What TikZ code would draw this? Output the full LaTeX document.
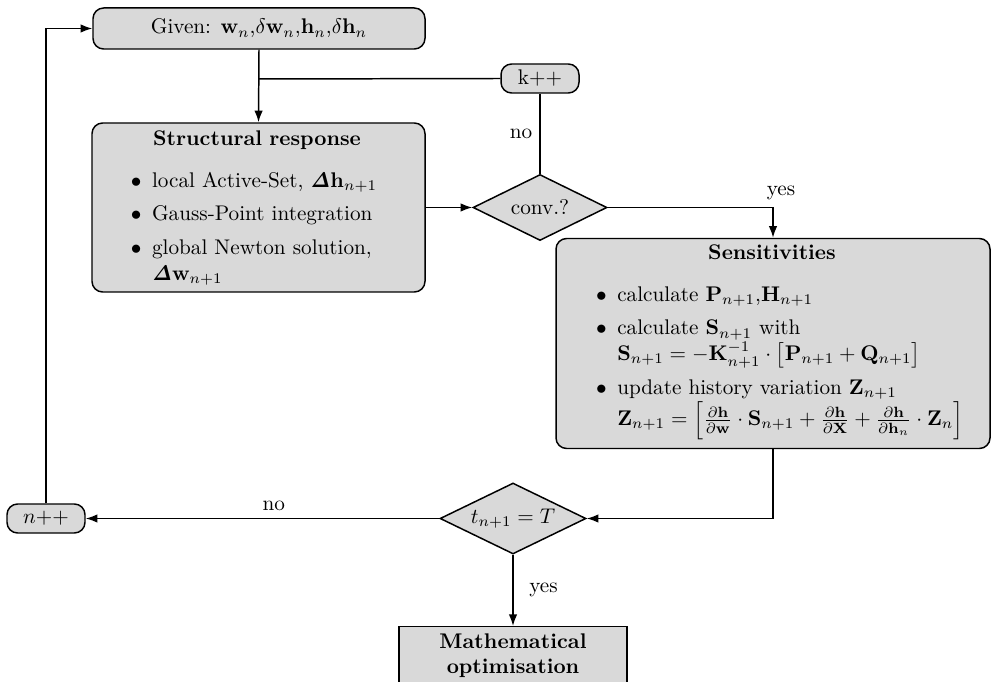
\documentclass[tikz,border=0pt]{standalone}
\usepackage{amsmath,amssymb}
\usetikzlibrary{shapes.geometric,arrows.meta}
\newlength\pxu
\setlength\pxu{0.4717pt}
% compact bullet list used inside the process boxes
\newenvironment{bulletlist}
  {\begin{list}{$\bullet$}{\setlength{\itemsep}{4pt}\setlength{\parsep}{0pt}%
     \setlength{\topsep}{7.5pt}\setlength{\partopsep}{0pt}}}
  {\end{list}}

\begin{document}
\begin{tikzpicture}[x=\pxu,y=-\pxu,
  box/.style={draw,fill=black!15,line width=0.7pt,rounded corners=5pt},
  sharpbox/.style={draw,fill=black!15,line width=0.7pt},
  pill/.style={draw,fill=black!15,line width=0.7pt,rounded corners=5pt,inner sep=0pt},
  decision/.style={draw,fill=black!15,line width=0.7pt,diamond,aspect=2,inner sep=0pt},
  boxtext/.style={inner sep=0pt,anchor=north},
  conn/.style={line width=0.7pt},
  arr/.style={conn,-{Latex[length=5.5pt,width=4pt]}},
]
\useasboundingbox (0,0) rectangle (991,682);

% process boxes
\node[box, minimum width=332\pxu, minimum height=41\pxu] (given) at (259,28.5)
  {Given: $\mathbf{w}_n$,$\delta\mathbf{w}_n$,$\mathbf{h}_n$,$\delta\mathbf{h}_n$};

\node[box, minimum width=333\pxu, minimum height=169\pxu] (struct) at (258.5,207.5) {};
\node[boxtext, text width=149pt] (structtext) at (257,130.5) {%
  {\centering\textbf{Structural response}\par}
  \begin{bulletlist}
  \item local Active-Set, $\boldsymbol{\mathit{\Delta}}\mathbf{h}_{n+1}$
  \item Gauss-Point integration
  \item global Newton solution, $\boldsymbol{\mathit{\Delta}}\mathbf{w}_{n+1}$
  \end{bulletlist}};

\node[box, minimum width=434\pxu, minimum height=210\pxu] (sens) at (773,343.5) {};
\node[boxtext, text width=196pt] (senstext) at (772,244.5) {%
  {\centering\textbf{Sensitivities}\par}
  \begin{bulletlist}
  \item calculate $\mathbf{P}_{n+1}$,$\mathbf{H}_{n+1}$
  \item calculate $\mathbf{S}_{n+1}$ with\\
    $\mathbf{S}_{n+1}=-\mathbf{K}_{n+1}^{-1}\cdot\bigl[\mathbf{P}_{n+1}+\mathbf{Q}_{n+1}\bigr]$
  \item update history variation $\mathbf{Z}_{n+1}$\\
    $\mathbf{Z}_{n+1}=\left[\frac{\partial\mathbf{h}}{\partial\mathbf{w}}\cdot\mathbf{S}_{n+1}
      +\frac{\partial\mathbf{h}}{\partial\mathbf{X}}
      +\frac{\partial\mathbf{h}}{\partial\mathbf{h}_n}\cdot\mathbf{Z}_n\right]$
  \end{bulletlist}};

\node[sharpbox, anchor=north, minimum width=228\pxu, text width=100pt, align=center,
      font=\bfseries] (math) at (513,626) {Mathematical\\optimisation};

% counters
\node[pill, minimum width=78\pxu, minimum height=29\pxu] (kpp) at (540,78.5) {k++};
\node[pill, minimum width=78\pxu, minimum height=29\pxu] (npp) at (46,518.5) {$n$++};

% decisions
\node[decision, minimum width=134\pxu, minimum height=66\pxu] (conv) at (540,207.5) {conv.?};
\node[decision, minimum width=146\pxu, minimum height=71\pxu] (tdia) at (513,518.5) {$t_{n+1}=T$};

% connectors
\coordinate (j1) at (259,79);
\draw[arr] (given.south) -- (struct.north);
\draw[conn] (kpp.west) -- (j1);
\draw[conn] (kpp.south) -- node[left] {no} (conv.north);
\draw[arr] (struct.east) -- (conv.west);
\draw[arr] (conv.east) -| node[pos=0.5, above, xshift=8\pxu] {yes} (sens.north);
\draw[arr] (sens.south) |- (tdia.east);
\draw[arr] (tdia.west) -- node[above, pos=0.468] {no} (npp.east);
\draw[arr] (tdia.south) -- node[right, xshift=4pt] {yes} (math.north);
\draw[arr] (npp.north) |- (given.west);
\end{tikzpicture}
\end{document}
